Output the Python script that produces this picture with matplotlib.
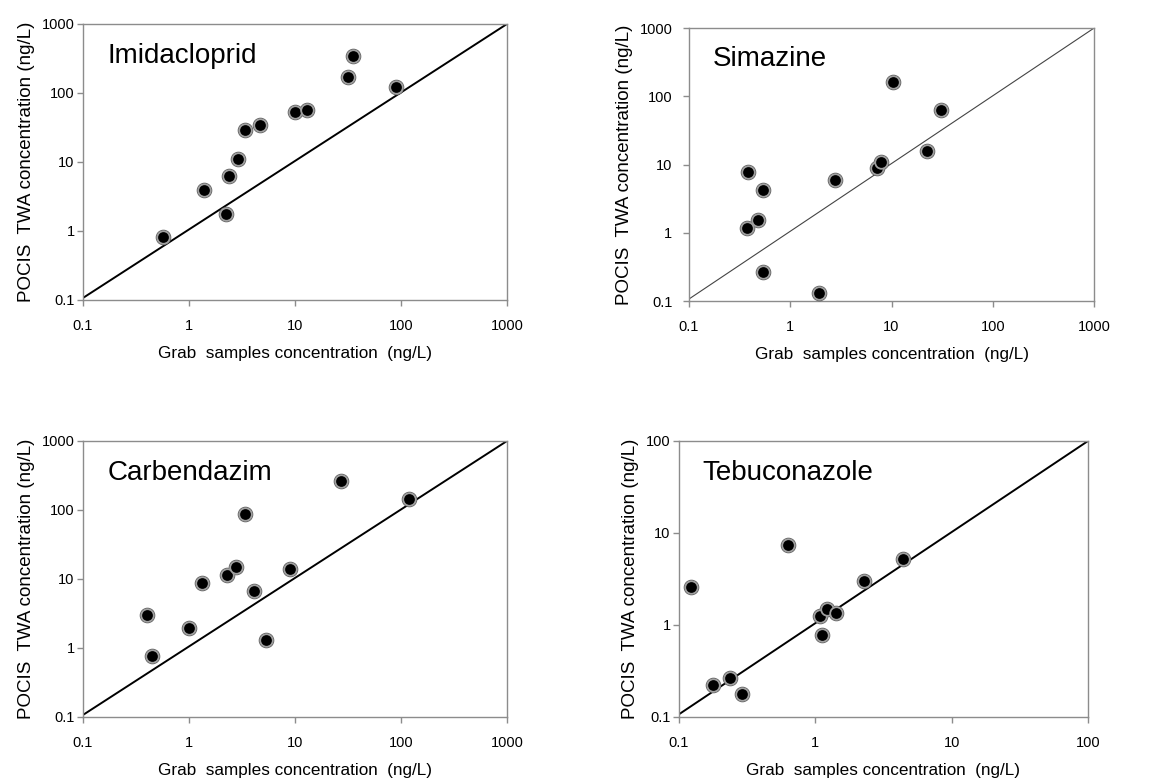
import matplotlib.pyplot as plt
from matplotlib.ticker import FixedLocator, FixedFormatter, NullLocator

plt.rcParams['font.family'] = ['Liberation Sans', 'DejaVu Sans']

# grab sample concentration (x) vs POCIS TWA concentration (y), ng/L
imi_x = [0.57, 1.39, 2.22, 2.40, 2.90, 3.37, 4.64, 10.1, 13.0, 31.6, 35.0, 89.7]
imi_y = [0.83, 3.93, 1.75, 6.27, 11.0, 29.1, 34.7, 53.6, 56.8, 169, 344, 124]

sim_x = [0.385, 0.37, 0.476, 0.535, 0.535, 1.92, 2.77, 7.13, 7.87, 10.4, 22.3, 30.8]
sim_y = [7.72, 1.18, 1.56, 4.3, 0.269, 0.129, 6.03, 8.83, 10.8, 161, 15.9, 62]

car_x = [0.405, 0.448, 1.0, 1.34, 2.27, 2.75, 3.38, 4.1, 5.28, 8.9, 27.4, 118]
car_y = [3.01, 0.757, 1.97, 8.65, 11.4, 14.9, 86.5, 6.7, 1.32, 14.1, 263, 143]

teb_x = [0.123, 0.177, 0.236, 0.292, 0.631, 1.09, 1.12, 1.22, 1.41, 2.26, 4.39]
teb_y = [2.59, 0.221, 0.266, 0.180, 7.47, 1.24, 0.785, 1.48, 1.35, 2.98, 5.22]

names = ["Imidacloprid", "Simazine", "Carbendazim", "Tebuconazole"]
xs = [imi_x, sim_x, car_x, teb_x]
ys = [imi_y, sim_y, car_y, teb_y]
limits = [(0.1, 1000), (0.1, 1000), (0.1, 1000), (0.1, 100)]
tick_sets = [[0.1, 1, 10, 100, 1000]] * 3 + [[0.1, 1, 10, 100]]
tick_labels = [["0.1", "1", "10", "100", "1000"]] * 3 + [["0.1", "1", "10", "100"]]

# axes rectangles [left, bottom, width, height]
rects = [[0.0709, 0.6149, 0.3624, 0.3543],
         [0.5889, 0.6136, 0.3462, 0.3504],
         [0.0709, 0.0796, 0.3624, 0.3543],
         [0.5803, 0.0796, 0.3496, 0.3543]]
diag_lw = [1.4, 0.8, 1.4, 1.4]
diag_col = ["black", "#444444", "black", "black"]
ypads = [2, 8, 2, 2]

fig = plt.figure(figsize=(11.7, 7.79), dpi=100)

for i in range(4):
    ax = fig.add_axes(rects[i])
    lo, hi = limits[i]
    ax.set_xscale('log')
    ax.set_yscale('log')
    ax.set_xlim(lo, hi)
    ax.set_ylim(lo, hi)
    ax.plot([lo, hi], [lo * 1.07, hi], color=diag_col[i], lw=diag_lw[i], zorder=2)
    ax.scatter(xs[i], ys[i], s=125, color='#4a4a4a', zorder=3, linewidths=0)
    ax.scatter(xs[i], ys[i], s=82, color='black', edgecolors='#a0a0a0',
               linewidths=1.3, zorder=4)
    for a in (ax.xaxis, ax.yaxis):
        a.set_major_locator(FixedLocator(tick_sets[i]))
        a.set_major_formatter(FixedFormatter(tick_labels[i]))
        a.set_minor_locator(NullLocator())
    for sp in ax.spines.values():
        sp.set_color('#8c8c8c')
        sp.set_linewidth(1.0)
    ax.tick_params(axis='both', direction='out', length=4, width=1.0,
                   color='#8c8c8c', labelsize=10.5)
    ax.tick_params(axis='x', pad=9.5)
    ax.tick_params(axis='y', pad=ypads[i])
    ax.set_ylabel("POCIS  TWA concentration (ng/L)", fontsize=13.5, labelpad=5)
    ax.set_xlabel("Grab  samples concentration  (ng/L)", fontsize=12.3, labelpad=9.5)
    ax.text(0.058, 0.885, names[i], transform=ax.transAxes, fontsize=20,
            ha='left', va='center')

fig.savefig("out.png", dpi=100)
